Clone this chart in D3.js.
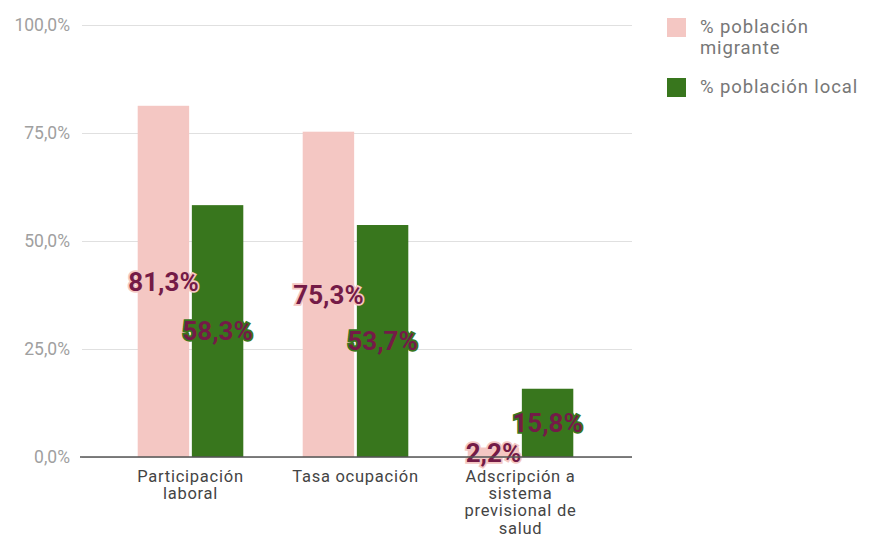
<!DOCTYPE html>
<html>
<head>
<meta charset="utf-8">
<script src="https://cdn.jsdelivr.net/npm/d3@7"></script>
<style>
  html, body { margin: 0; padding: 0; background: #fff; }
  svg { display: block; font-family: Roboto, "Noto Sans", sans-serif; }
</style>
</head>
<body>
<svg id="chart" width="872" height="538"></svg>
<script>
// Indicadores laborales: población migrante vs. población local
const categories = [
  ["Participación", "laboral"],
  ["Tasa ocupación"],
  ["Adscripción a", "sistema", "previsional de", "salud"]
];
const seriesNames = ["% población migrante", "% población local"];
const legendLines = [["% población", "migrante"], ["% población local"]];
const migrante = [81.3, 75.3, 2.2];
const local = [58.3, 53.7, 15.8];
const yTicks = [0, 25, 50, 75, 100];
const colors = ["#f4c7c3", "#38761d"];

const svg = d3.select("#chart");
const fmt = v => v.toFixed(1).replace(".", ",") + "%";

const y = d3.scaleLinear().domain([0, 100]).range([457, 25]);
const x0 = d3.scaleBand().domain(d3.range(categories.length))
  .range([108, 603]).paddingInner(0.36).paddingOuter(0.18);
const x1 = d3.scaleBand().domain(d3.range(seriesNames.length))
  .range([0, x0.bandwidth()]).paddingInner(0.05);

// gridlines and y tick labels
const yAxis = d3.axisLeft(y).tickValues(yTicks).tickFormat(d => fmt(d))
  .tickSize(-550).tickPadding(12);
const gy = svg.append("g").attr("transform", "translate(82,0)").call(yAxis);
gy.select(".domain").remove();
gy.selectAll(".tick line").attr("stroke", "#e0e0e0").attr("stroke-width", 1);
gy.selectAll(".tick text").attr("fill", "#a0a0a0").attr("font-size", 17.5)
  .attr("font-family", "Roboto, sans-serif");

// bars
const values = [migrante, local];
const groups = svg.append("g").selectAll("g")
  .data(categories.map((c, i) => i)).join("g")
  .attr("transform", i => `translate(${x0(i)},0)`);

const barData = i => values.map((s, k) => ({ k, v: s[i] }));

groups.selectAll("rect")
  .data(barData)
  .join("rect")
  .attr("x", d => x1(d.k))
  .attr("width", x1.bandwidth())
  .attr("y", d => y(d.v))
  .attr("height", d => y(0) - y(d.v))
  .attr("fill", d => colors[d.k]);

// baseline
svg.append("line")
  .attr("x1", 80).attr("x2", 632)
  .attr("y1", y(0)).attr("y2", y(0))
  .attr("stroke", "#555").attr("stroke-width", 1.5);

// value labels centred on each bar, with an aura in the bar colour
function valueLabels(cls, withAura) {
  const t = groups.selectAll("text." + cls)
    .data(barData)
    .join("text")
    .attr("class", cls)
    .attr("x", d => x1(d.k) + x1.bandwidth() / 2)
    .attr("y", d => (y(d.v) + y(0)) / 2)
    .attr("dy", "0.36em")
    .attr("text-anchor", "middle")
    .attr("font-size", 26)
    .attr("font-weight", "bold")
    .text(d => fmt(d.v));
  if (withAura) {
    t.attr("fill", d => colors[d.k])
      .attr("stroke", d => colors[d.k])
      .attr("stroke-width", 3.5)
      .attr("stroke-linejoin", "miter");
  } else {
    t.attr("fill", "#741b47");
  }
}
valueLabels("aura", true);
valueLabels("val", false);

// category labels
categories.forEach((lines, i) => {
  const t = svg.append("text")
    .attr("text-anchor", "middle")
    .attr("font-size", 16.5)
    .attr("letter-spacing", 0.75)
    .attr("fill", "#444");
  lines.forEach((ln, j) => {
    t.append("tspan")
      .attr("x", x0(i) + x0.bandwidth() / 2)
      .attr("y", 482 + j * 17.2)
      .text(ln);
  });
});

// legend
const legendY = [18, 78];
legendLines.forEach((lines, k) => {
  svg.append("rect")
    .attr("x", 667).attr("y", legendY[k])
    .attr("width", 19).attr("height", 19)
    .attr("fill", colors[k]);
  const t = svg.append("text")
    .attr("font-size", 18.5)
    .attr("letter-spacing", 0.9)
    .attr("fill", "#777");
  lines.forEach((ln, j) => {
    t.append("tspan")
      .attr("x", 700)
      .attr("y", legendY[k] + 15 + j * 20.5)
      .text(ln);
  });
});
</script>
</body>
</html>
